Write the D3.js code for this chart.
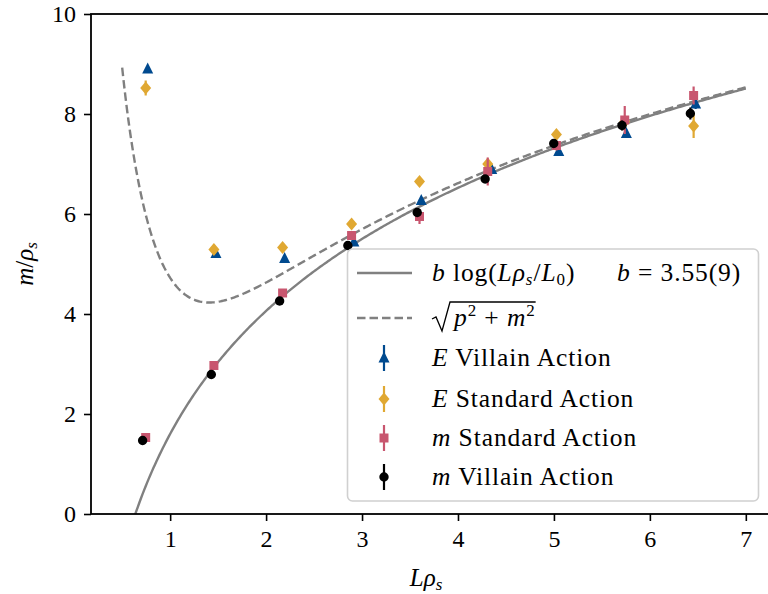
<!DOCTYPE html>
<html>
<head>
<meta charset="utf-8">
<script src="https://cdn.jsdelivr.net/npm/d3@7"></script>
<style>
  html, body { margin: 0; padding: 0; background: #fff; }
  svg { display: block; }
  text { font-family: "Liberation Serif", "Times New Roman", serif; fill: #000; }
</style>
</head>
<body>
<svg id="chart" width="768" height="594"></svg>
<script>
// Fit parameters from the legend
const fitB = 3.55;
const fitL0 = 0.637;
const momentumC = 4.443;

// Measured points: E (Villain), E (Standard), m (Standard), m (Villain)
const lEVillain = [0.766, 1.477, 2.193, 2.915, 3.617, 4.352, 5.05, 5.755, 6.477];
const eVillain = [8.90, 5.21, 5.11, 5.44, 6.27, 6.89, 7.25, 7.61, 8.20];
const eVillainErr = [0.05, 0.04, 0.04, 0.05, 0.06, 0.08, 0.07, 0.08, 0.1];

const lEStandard = [0.745, 1.456, 2.172, 2.891, 3.599, 4.31, 5.026, 5.738, 6.456];
const eStandard = [8.52, 5.29, 5.33, 5.80, 6.65, 7.00, 7.59, 7.85, 7.76];
const eStandardErr = [0.15, 0.05, 0.05, 0.05, 0.06, 0.1, 0.06, 0.08, 0.24];

const lMStandard = [0.745, 1.456, 2.172, 2.891, 3.599, 4.31, 5.026, 5.738, 6.456];
const mStandard = [1.53, 2.97, 4.42, 5.57, 5.95, 6.85, 7.37, 7.88, 8.37];
const mStandardErr = [0.04, 0.05, 0.05, 0.06, 0.15, 0.28, 0.1, 0.28, 0.18];

const lMVillain = [0.713, 1.429, 2.141, 2.852, 3.575, 4.283, 4.998, 5.71, 6.422];
const mVillain = [1.47, 2.79, 4.26, 5.37, 6.03, 6.70, 7.41, 7.77, 8.01];
const mVillainErr = [0.03, 0.03, 0.03, 0.04, 0.05, 0.08, 0.06, 0.1, 0.12];

const xTicks = [1, 2, 3, 4, 5, 6, 7];
const yTicks = [0, 2, 4, 6, 8, 10];

const serif = "'Liberation Serif', 'Times New Roman', serif";
const svg = d3.select("#chart");
const plotLeft = 91, plotRight = 777, plotTop = 14, plotBottom = 514;

const x = d3.scaleLinear().domain([0.175, 7.325]).range([plotLeft, plotRight]);
const y = d3.scaleLinear().domain([0, 10]).range([plotBottom, plotTop]);

svg.append("defs").append("clipPath").attr("id", "plotClip")
  .append("rect").attr("x", plotLeft).attr("y", plotTop)
  .attr("width", plotRight - plotLeft).attr("height", plotBottom - plotTop);

// Fit curves
const mFit = L => fitB * Math.log(L / fitL0);
const eFit = L => Math.sqrt((momentumC / L) ** 2 + mFit(L) ** 2);
const grid = d3.range(0, 401).map(i => 0.5 + i * 6.5 / 400);

const line = d3.line().x(d => x(d[0])).y(d => y(d[1]));
const curves = svg.append("g").attr("clip-path", "url(#plotClip)");
curves.append("path").datum(grid.map(L => [L, mFit(L)]))
  .attr("d", line).attr("fill", "none").attr("stroke", "#808080")
  .attr("stroke-width", 2.4);
curves.append("path").datum(grid.map(L => [L, eFit(L)]))
  .attr("d", line).attr("fill", "none").attr("stroke", "#808080")
  .attr("stroke-width", 2.4).attr("stroke-dasharray", "8.5,4");

// Marker shapes
const markers = {
  triangle: (cx, cy) => `M${cx},${cy - 6.5}L${cx + 5.5},${cy + 4.5}L${cx - 5.5},${cy + 4.5}Z`,
  diamond: (cx, cy) => `M${cx},${cy - 6.5}L${cx + 5.5},${cy}L${cx},${cy + 6.5}L${cx - 5.5},${cy}Z`,
  square: (cx, cy) => `M${cx - 4.5},${cy - 4.5}h9v9h-9Z`,
  circle: (cx, cy) => `M${cx + 4.7},${cy}A4.7,4.7 0 1 1 ${cx - 4.7},${cy}A4.7,4.7 0 1 1 ${cx + 4.7},${cy}Z`
};

const series = [
  { xs: lEVillain, ys: eVillain, err: eVillainErr, color: "#004a8f", shape: "triangle" },
  { xs: lEStandard, ys: eStandard, err: eStandardErr, color: "#e0a832", shape: "diamond" },
  { xs: lMStandard, ys: mStandard, err: mStandardErr, color: "#c8566f", shape: "square" },
  { xs: lMVillain, ys: mVillain, err: mVillainErr, color: "#000000", shape: "circle" }
];

series.forEach(s => {
  const g = svg.append("g");
  const pts = s.xs.map((v, i) => ({ L: v, v: s.ys[i], e: s.err[i] }));
  g.selectAll("line").data(pts).join("line")
    .attr("x1", d => x(d.L)).attr("x2", d => x(d.L))
    .attr("y1", d => y(d.v - d.e)).attr("y2", d => y(d.v + d.e))
    .attr("stroke", s.color).attr("stroke-width", 2.2);
  g.selectAll("path").data(pts).join("path")
    .attr("d", d => markers[s.shape](x(d.L), y(d.v)))
    .attr("fill", s.color);
});

// Spines
const spine = svg.append("g").attr("stroke", "#000").attr("stroke-width", 1.8).attr("fill", "none");
spine.append("rect").attr("x", plotLeft).attr("y", plotTop)
  .attr("width", plotRight - plotLeft).attr("height", plotBottom - plotTop);

// Axes
const xAxis = svg.append("g").attr("transform", `translate(0,${plotBottom})`)
  .call(d3.axisBottom(x).tickValues(xTicks).tickSize(7).tickPadding(9).tickFormat(d3.format("d")));
const yAxis = svg.append("g").attr("transform", `translate(${plotLeft},0)`)
  .call(d3.axisLeft(y).tickValues(yTicks).tickSize(7).tickPadding(8).tickFormat(d3.format("d")));
[xAxis, yAxis].forEach(a => {
  a.attr("font-family", serif);
  a.select(".domain").remove();
  a.selectAll(".tick line").attr("stroke", "#000").attr("stroke-width", 1.6);
  a.selectAll(".tick text").style("font-family", serif).attr("font-size", 24).attr("fill", "#000");
});

// Axis titles
const xt = svg.append("text").attr("x", 426).attr("y", 586).attr("text-anchor", "middle").attr("font-size", 25);
xt.append("tspan").attr("font-style", "italic").text("Lρ");
xt.append("tspan").attr("font-style", "italic").attr("font-size", 17).attr("dy", 4).text("s");

const yt = svg.append("text").attr("transform", "translate(33,264) rotate(-90)")
  .attr("text-anchor", "middle").attr("font-size", 25);
yt.append("tspan").attr("font-style", "italic").text("m");
yt.append("tspan").text("/");
yt.append("tspan").attr("font-style", "italic").text("ρ");
yt.append("tspan").attr("font-style", "italic").attr("font-size", 17).attr("dy", 4).text("s");

// Legend
const lg = svg.append("g").attr("letter-spacing", 0.9);
lg.append("rect").attr("x", 347.5).attr("y", 249).attr("width", 411).attr("height", 252)
  .attr("rx", 5).attr("fill", "#fff").attr("fill-opacity", 0.8)
  .attr("stroke", "#d0d0d0").attr("stroke-width", 1.6);

const hx0 = 357, hx1 = 412, tx = 432;
const rowY = [273, 318, 358, 399, 438, 477];

lg.append("line").attr("x1", hx0).attr("x2", hx1).attr("y1", rowY[0]).attr("y2", rowY[0])
  .attr("stroke", "#808080").attr("stroke-width", 2.4);
lg.append("line").attr("x1", hx0).attr("x2", hx1).attr("y1", rowY[1]).attr("y2", rowY[1])
  .attr("stroke", "#808080").attr("stroke-width", 2.4).attr("stroke-dasharray", "8.5,4");

const fs = 25.5;
const t1 = lg.append("text").attr("x", tx).attr("y", rowY[0] + 8).attr("font-size", fs);
t1.append("tspan").attr("font-style", "italic").text("b");
t1.append("tspan").text(" log(");
t1.append("tspan").attr("font-style", "italic").text("Lρ");
t1.append("tspan").attr("font-style", "italic").attr("font-size", 17).attr("dy", 4).text("s");
t1.append("tspan").attr("dy", -4).text("/");
t1.append("tspan").attr("font-style", "italic").text("L");
t1.append("tspan").attr("font-size", 17).attr("dy", 4).text("0");
t1.append("tspan").attr("dy", -4).text(")");
t1.append("tspan").attr("font-style", "italic").attr("x", 617).text("b");
t1.append("tspan").text(" = 3.55(9)");

// Square-root label
const rx = tx, ry = rowY[1];
const t2 = lg.append("text").attr("x", rx + 22).attr("y", ry + 8).attr("font-size", fs);
t2.append("tspan").attr("font-style", "italic").text("p");
t2.append("tspan").attr("font-size", 17).attr("dy", -10).text("2");
t2.append("tspan").attr("dy", 10).text(" + ");
t2.append("tspan").attr("font-style", "italic").text("m");
t2.append("tspan").attr("font-size", 17).attr("dy", -10).text("2");
const radW = t2.node().getComputedTextLength();
lg.append("path")
  .attr("d", `M${rx},${ry + 1}L${rx + 4},${ry - 1}L${rx + 10},${ry + 13}L${rx + 18},${ry - 16}L${rx + 22 + radW},${ry - 16}`)
  .attr("fill", "none").attr("stroke", "#000").attr("stroke-width", 1.3);

const labels = [
  ["E", " Villain Action"],
  ["E", " Standard Action"],
  ["m", " Standard Action"],
  ["m", " Villain Action"]
];
series.forEach((s, i) => {
  const cy = rowY[i + 2], cx = 384;
  lg.append("line").attr("x1", cx).attr("x2", cx).attr("y1", cy - 13).attr("y2", cy + 13)
    .attr("stroke", s.color).attr("stroke-width", 2.2);
  lg.append("path").attr("d", markers[s.shape](cx, cy)).attr("fill", s.color);
  const t = lg.append("text").attr("x", tx).attr("y", cy + 8).attr("font-size", fs);
  t.append("tspan").attr("font-style", "italic").text(labels[i][0]);
  t.append("tspan").text(labels[i][1]);
});
</script>
</body>
</html>
